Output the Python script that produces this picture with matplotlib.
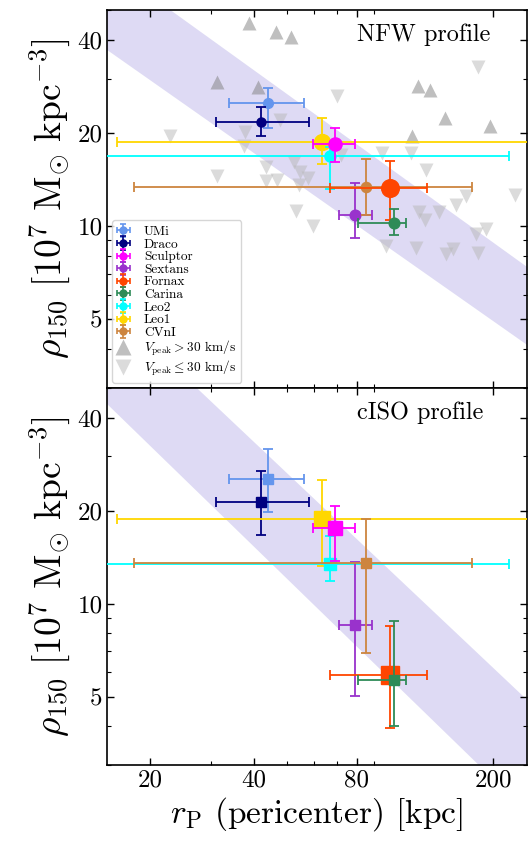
import numpy as np
import matplotlib
matplotlib.use('Agg')
import matplotlib.pyplot as plt
from matplotlib.ticker import NullFormatter

plt.rcParams['font.family'] = ['cmr10', 'DejaVu Serif']
plt.rcParams['mathtext.fontset'] = 'cm'
plt.rcParams['axes.formatter.use_mathtext'] = True
plt.rcParams['axes.unicode_minus'] = False

# ---------------- data ----------------
galaxies = ['UMi', 'Draco', 'Sculptor', 'Sextans', 'Fornax', 'Carina', 'Leo2', 'Leo1', 'CVnI']
colors = ['cornflowerblue', 'navy', 'magenta', 'darkorchid', 'orangered', 'seagreen', 'cyan', 'gold', 'peru']

rp = [44.0, 42.0, 69.0, 79.0, 100.2, 102.7, 67.0, 63.3, 85.1]
rp_lo = [34.0, 31.0, 59.8, 70.9, 67.0, 80.4, 12.0, 16.0, 18.0]
rp_hi = [56.1, 58.1, 79.0, 88.4, 128.4, 111.2, 222.0, 300.0, 173.0]

rho_nfw = [25.1, 21.7, 18.5, 10.9, 13.3, 10.2, 16.9, 18.7, 13.4]
rho_nfw_lo = [20.7, 19.5, 16.1, 9.12, 10.5, 9.35, 13.2, 15.9, 10.9]
rho_nfw_hi = [28.0, 24.2, 20.7, 13.8, 16.3, 11.34, 18.0, 22.4, 16.5]

rho_ciso = [25.4, 21.3, 17.6, 8.52, 5.89, 5.67, 13.4, 18.8, 13.5]
rho_ciso_lo = [19.8, 16.7, 13.7, 5.01, 3.95, 4.01, 11.8, 13.2, 6.93]
rho_ciso_hi = [31.6, 26.8, 20.7, 13.6, 8.45, 8.81, 16.5, 25.1, 18.8]

# simulated subhaloes (NFW panel)
up_rp = [38.8, 46.5, 51.3, 31.3, 41.1, 120.5, 130.3, 144.8, 194.8, 116.1]
up_rho = [45.3, 42.5, 41.0, 29.3, 28.2, 28.3, 27.6, 22.4, 21.1, 19.5]
down_rp = [22.8, 37.9, 37.6, 31.4, 43.4, 43.6, 46.7, 47.7, 52.6, 54.6, 54.1, 57.7,
           53.1, 59.7, 70.1, 71.8, 94.6, 115.0, 127.2, 180.5, 230.7, 166.2, 155.8,
           138.4, 121.3, 126.1, 190.5, 177.7, 97.5, 119.2, 145.7, 152.3, 180.0]
down_rho = [19.5, 20.2, 18.1, 14.5, 15.5, 13.96, 14.1, 22.1, 16.1, 15.0, 13.6, 14.3,
            11.2, 10.0, 26.3, 17.0, 17.2, 17.3, 15.2, 32.8, 12.65, 12.5, 11.7,
            11.1, 11.1, 10.5, 9.76, 9.40, 8.62, 8.48, 8.10, 8.41, 8.21]

# power-law bands: value at 100 kpc and slope for lower / upper edge
nfw_band_lo, nfw_band_hi = 8.45, 15.38
nfw_slope_lo, nfw_slope_hi = -0.78, -0.80
ciso_band_lo, ciso_band_hi = 5.70, 12.79
ciso_slope_lo, ciso_slope_hi = -1.08, -1.05

xticks = [20, 40, 80, 200]
xminor = [30, 50, 60, 70, 90]
yticks = [5, 10, 20, 40]
yminor = [3, 4, 6, 7, 8, 9, 30, 50]

# ---------------- style ----------------
msize = {'UMi': 7, 'Draco': 6.5, 'Sculptor': 9.5, 'Sextans': 7.7, 'Fornax': 12.7,
         'Carina': 7.7, 'Leo2': 8, 'Leo1': 11.5, 'CVnI': 7.3}
draw_order = ['UMi', 'Draco', 'Leo1', 'Leo2', 'Sculptor', 'Sextans', 'CVnI', 'Fornax', 'Carina']

fig = plt.figure(figsize=(5.31, 8.44), dpi=100)
ax1 = fig.add_axes([0.202, 0.5406, 0.790, 0.4475])
ax2 = fig.add_axes([0.202, 0.0936, 0.790, 0.4470])

rr = np.geomspace(10, 400, 300)
band_color = '#6a5acd'


def draw_panel(ax, rho, lo, hi, marker, blo, bhi, slo, shi):
    ax.set_xscale('log')
    ax.set_yscale('log')
    ax.fill_between(rr, blo * (rr / 100.0) ** slo, bhi * (rr / 100.0) ** shi,
                    color=band_color, alpha=0.22, lw=0, zorder=1)
    for k, name in enumerate(draw_order):
        i = galaxies.index(name)
        xe = [[rp[i] - rp_lo[i]], [rp_hi[i] - rp[i]]]
        ye = [[rho[i] - lo[i]], [hi[i] - rho[i]]]
        ax.errorbar([rp[i]], [rho[i]], xerr=xe, yerr=ye, fmt=marker,
                    color=colors[i], ms=msize[name], mec=colors[i],
                    elinewidth=1.3, capsize=3.5, capthick=1.3, zorder=5 + k)
    ax.set_xlim(15, 250)
    ax.set_ylim(3, 50)
    ax.set_xticks(xticks)
    ax.set_xticks(xminor, minor=True)
    ax.xaxis.set_minor_formatter(NullFormatter())
    ax.set_yticks(yticks)
    ax.set_yticklabels([str(v) for v in yticks])
    ax.set_yticks(yminor, minor=True)
    ax.yaxis.set_minor_formatter(NullFormatter())
    ax.tick_params(which='both', direction='in', top=True, right=True, labelsize=18)
    ax.tick_params(which='major', length=5, width=1.0)
    ax.tick_params(which='minor', length=3, width=0.8)
    for s in ax.spines.values():
        s.set_linewidth(1.2)
    ax.set_ylabel(r'$\rho_{150}\ [10^7\ {\rm M}_{\odot}\ {\rm kpc}^{-3}]$', fontsize=27, labelpad=4)


draw_panel(ax1, rho_nfw, rho_nfw_lo, rho_nfw_hi, 'o',
           nfw_band_lo, nfw_band_hi, nfw_slope_lo, nfw_slope_hi)
draw_panel(ax2, rho_ciso, rho_ciso_lo, rho_ciso_hi, 's',
           ciso_band_lo, ciso_band_hi, ciso_slope_lo, ciso_slope_hi)

ax1.plot(up_rp, up_rho, '^', color='gray', alpha=0.5, ms=10, mec='none', zorder=2)
ax1.plot(down_rp, down_rho, 'v', color='0.72', alpha=0.5, ms=10, mec='none', zorder=2)

ax1.set_xticklabels([])
ax2.set_xticklabels([str(v) for v in xticks])
ax2.set_xlabel(r'$r_{\rm P}$ (pericenter) [kpc]', fontsize=24, labelpad=2)

ax1.text(0.596, 0.918, 'NFW profile', transform=ax1.transAxes, fontsize=17.5,
         ha='left', va='baseline')
ax2.text(0.596, 0.918, 'cISO profile', transform=ax2.transAxes, fontsize=17.5,
         ha='left', va='baseline')

# legend proxies
handles = []
for i, name in enumerate(galaxies):
    h = ax1.errorbar([np.nan], [np.nan], xerr=[1], yerr=[1], fmt='o', color=colors[i],
                     ms=5, elinewidth=1.2, capsize=2.5, capthick=1.2, label=name)
    handles.append(h)
hu, = ax1.plot([np.nan], [np.nan], '^', color='gray', alpha=0.5, ms=12, mec='none',
               label=r'$V_{\rm peak} > 30$ km/s')
hd, = ax1.plot([np.nan], [np.nan], 'v', color='0.72', alpha=0.5, ms=12, mec='none',
               label=r'$V_{\rm peak} \leq 30$ km/s')
handles += [hu, hd]
leg = ax1.legend(handles=handles, loc='lower left', fontsize=9.6, labelspacing=0.02,
                 handlelength=0.9, handletextpad=1.1, borderpad=0.4,
                 borderaxespad=0.35, framealpha=0.8)

fig.savefig('out.png', dpi=100)
